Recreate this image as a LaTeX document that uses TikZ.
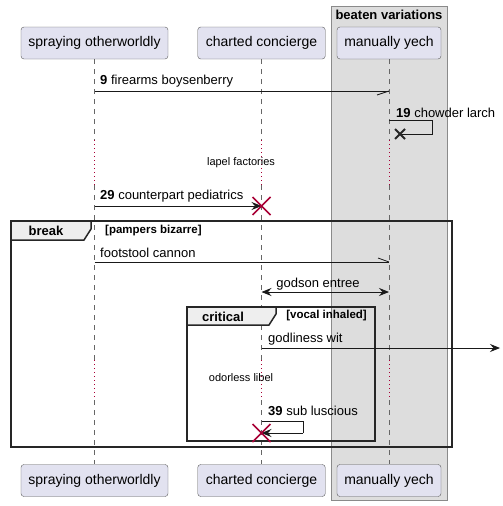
\documentclass[tikz,border=0pt]{standalone}
\usepackage{fontspec}
\setmainfont{Liberation Sans}
\usetikzlibrary{arrows.meta}
\definecolor{partfill}{HTML}{E2E2F0}
\definecolor{partdraw}{HTML}{5A5A5A}
\definecolor{grpfill}{HTML}{DDDDDD}
\definecolor{grpdraw}{HTML}{8A8A8A}
\definecolor{crim}{HTML}{A80036}
\definecolor{tabfill}{HTML}{EEEEEE}
\definecolor{lifec}{HTML}{666666}
\begin{document}
\begin{tikzpicture}[x=1pt,y=-1pt,
  part/.style={draw=partdraw,fill=partfill,rounded corners=3pt,minimum height=32pt,inner sep=0pt,font=\fontsize{14}{16}\selectfont},
  lifeline/.style={draw=lifec,line width=0.6pt,dash pattern=on 5pt off 5pt},
  delayline/.style={draw=crim,line width=0.8pt,dash pattern=on 0.8pt off 3.2pt},
  msg/.style={draw=black!90,line width=0.8pt},
  arr/.style={msg,-{Stealth[length=10pt,width=8pt,inset=3.5pt]}},
  halfhead/.style={draw=black!90,line width=0.8pt},
  lbl/.style={font=\fontsize{13}{15}\selectfont,inner sep=0pt,anchor=west},
  dlbl/.style={font=\fontsize{11}{13}\selectfont,inner sep=0pt},
  frm/.style={draw=black!85,line width=1.5pt},
  tabtxt/.style={font=\bfseries\fontsize{13}{15}\selectfont,inner sep=0pt},
  guard/.style={font=\bfseries\fontsize{11.5}{13}\selectfont,inner sep=0pt},
  crimx/.style={draw=crim,line width=1.5pt},
  blackx/.style={draw=black!85,line width=1.8pt}
]
\useasboundingbox (0,0) rectangle (503,506);
% group box
\draw[fill=grpfill,draw=grpdraw,line width=0.8pt] (331,6) rectangle (447,500);
\node[font=\bfseries\fontsize{13}{15}\selectfont,inner sep=0pt] (grp) at (389,15) {beaten variations};
% participants
\node[part,minimum width=147pt] (pA) at (94.5,43) {spraying otherworldly};
\node[part,minimum width=127.5pt] (pB) at (261.5,43) {charted concierge};
\node[part,minimum width=104pt] (pC) at (389,43) {manually yech};
\node[part,minimum width=147pt] (qA) at (94.5,480.5) {spraying otherworldly};
\node[part,minimum width=127.5pt] (qB) at (261.5,480.5) {charted concierge};
\node[part,minimum width=104pt] (qC) at (389,480.5) {manually yech};
% delay coordinates
\coordinate (d1a) at (0,140); \coordinate (d1b) at (0,185);
\coordinate (d2a) at (0,360); \coordinate (d2b) at (0,400);
% lifelines
\foreach \p/\q in {pA/qA,pB/qB,pC/qC}{
  \draw[lifeline] (\p.south) -- (\p.south |- d1a);
  \draw[delayline] (\p.south |- d1a) -- (\p.south |- d1b);
  \draw[lifeline] (\p.south |- d1b) -- (\p.south |- d2a);
  \draw[delayline] (\p.south |- d2a) -- (\p.south |- d2b);
  \draw[lifeline] (\p.south |- d2b) -- (\q.north);
}
% message 9
\coordinate (m1a) at (pA.south |- 0,91); \coordinate (m1b) at (pC.south |- 0,91);
\coordinate (m1h) at (377,95);
\draw[msg] (m1a) -- (m1b);
\draw[halfhead] (m1b) -- (m1h);
\node[lbl] (t1) at (100,81) {\textbf{9} firearms boysenberry};
% message 19 self
\coordinate (m2a) at (pC.south |- 0,120); \coordinate (m2r) at (432,120);
\coordinate (m2s) at (432,134); \coordinate (m2x) at (400,134);
\draw[msg] (m2a) -- (m2r) -- (m2s) -- (m2x);
\draw[blackx] ([shift={(-5,-5)}]m2x) -- ([shift={(5,5)}]m2x);
\draw[blackx] ([shift={(-5,5)}]m2x) -- ([shift={(5,-5)}]m2x);
\node[lbl] (t2) at (396,113) {\textbf{19} chowder larch};
% delay 1
\node[dlbl] (dl1) at (241,163) {lapel factories};
% message 29
\coordinate (m3a) at (pA.south |- 0,206); \coordinate (m3b) at (pB.south |- 0,206);
\draw[arr] (m3a) -- (m3b);
\draw[crimx] ([shift={(-9,-9)}]m3b) -- ([shift={(9,9)}]m3b);
\draw[crimx] ([shift={(-9,9)}]m3b) -- ([shift={(9,-9)}]m3b);
\node[lbl] (t3) at (100,196) {\textbf{29} counterpart pediatrics};
% break frame
\draw[frm] (11,221) rectangle (452,447);
\draw[frm,fill=tabfill] (11,221) -- (91,221) -- (91,229) -- (84,240) -- (11,240) -- cycle;
\node[tabtxt] (brk) at (46,231) {break};
\node[guard,anchor=west] (g1) at (105,231) {[pampers bizarre]};
% footstool cannon
\coordinate (m4a) at (pA.south |- 0,262); \coordinate (m4b) at (pC.south |- 0,262);
\coordinate (m4h) at (378,258);
\draw[msg] (m4a) -- (m4b);
\draw[halfhead] (m4b) -- (m4h);
\node[lbl] (t4) at (100,253) {footstool cannon};
% godson entree
\coordinate (m5a) at (pB.south |- 0,292); \coordinate (m5b) at (pC.south |- 0,292);
\draw[msg,{Stealth[length=10pt,width=8pt,inset=3.5pt]}-{Stealth[length=10pt,width=8pt,inset=3.5pt]}] (m5a) -- (m5b);
\node[lbl,anchor=center] (t5) at (318,284) {godson entree};
% critical frame
\draw[frm] (187,307) rectangle (375,441);
\draw[frm,fill=tabfill] (187,307) -- (276,307) -- (276,314) -- (269,325) -- (187,325) -- cycle;
\node[tabtxt] (crit) at (223,317) {critical};
\node[guard,anchor=east] (g2) at (367,316) {[vocal inhaled]};
% godliness wit
\coordinate (m6a) at (pB.south |- 0,348); \coordinate (m6b) at (500,348);
\draw[arr] (m6a) -- (m6b);
\node[lbl] (t6) at (268,339) {godliness wit};
% delay 2
\node[dlbl] (dl2) at (241,378) {odorless libel};
% message 39 self
\coordinate (m7a) at (pB.south |- 0,421); \coordinate (m7r) at (303,421);
\coordinate (m7s) at (303,433); \coordinate (m7b) at (pB.south |- 0,433);
\draw[msg] (m7a) -- (m7r) -- (m7s);
\draw[arr] (m7s) -- (m7b);
\draw[crimx] ([shift={(-9,-9)}]m7b) -- ([shift={(9,9)}]m7b);
\draw[crimx] ([shift={(-9,9)}]m7b) -- ([shift={(9,-9)}]m7b);
\node[lbl] (t7) at (268,411) {\textbf{39} sub luscious};
\end{tikzpicture}
\end{document}
